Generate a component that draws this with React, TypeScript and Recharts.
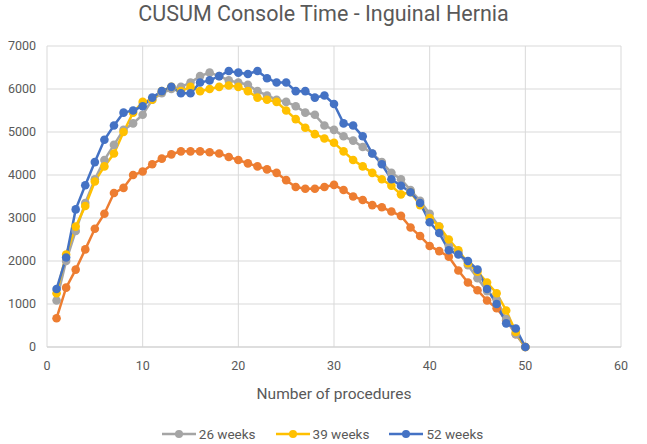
import { LineChart, Line, XAxis, YAxis, CartesianGrid, Legend } from 'recharts'

const PROCEDURES = Array.from({ length: 50 }, (_, i) => i + 1)

// one value per procedure 1..50
const WEEKS_13 = [
  670, 1380, 1800, 2270, 2750, 3100, 3580, 3700, 4000, 4080,
  4250, 4380, 4480, 4550, 4550, 4550, 4530, 4500, 4420, 4350,
  4270, 4200, 4130, 4050, 3880, 3720, 3680, 3680, 3720, 3770,
  3650, 3500, 3420, 3300, 3250, 3150, 3050, 2780, 2580, 2350,
  2230, 2100, 1780, 1500, 1320, 1080, 900, 620, 300, 0,
]
const WEEKS_26 = [
  1080, 2000, 2700, 3350, 3900, 4350, 4700, 5050, 5200, 5400,
  5750, 5900, 6000, 6050, 6150, 6300, 6380, 6300, 6200, 6150,
  6100, 5950, 5850, 5750, 5700, 5600, 5450, 5400, 5150, 5050,
  4900, 4800, 4650, 4500, 4300, 4050, 3900, 3650, 3400, 3100,
  2800, 2350, 2200, 1900, 1600, 1300, 1100, 650, 300, 0,
]
const WEEKS_39 = [
  1250, 2150, 2800, 3280, 3850, 4200, 4500, 5000, 5450, 5700,
  5750, 5950, 6050, 5950, 6050, 5950, 6000, 6050, 6080, 6050,
  5950, 5800, 5750, 5700, 5500, 5300, 5100, 4950, 4850, 4750,
  4550, 4350, 4200, 4050, 3900, 3750, 3550, 3600, 3300, 3000,
  2800, 2500, 2250, 1950, 1750, 1500, 1250, 850, 350, 0,
]
const WEEKS_52 = [
  1350, 2080, 3200, 3760, 4300, 4820, 5150, 5450, 5500, 5600,
  5800, 5950, 6050, 5900, 5900, 6150, 6200, 6300, 6420, 6380,
  6350, 6420, 6250, 6150, 6150, 5950, 5950, 5800, 5850, 5650,
  5200, 5150, 4900, 4500, 4250, 3900, 3750, 3600, 3350, 2900,
  2650, 2250, 2150, 2000, 1800, 1350, 1000, 550, 430, 0,
]

const X_TICKS = [0, 10, 20, 30, 40, 50, 60]
const Y_TICKS = [0, 1000, 2000, 3000, 4000, 5000, 6000, 7000]

const SERIES = [
  { key: 'w13', name: '13 weeks', color: '#ED7D31', values: WEEKS_13, inLegend: false },
  { key: 'w26', name: '26 weeks', color: '#A5A5A5', values: WEEKS_26, inLegend: true },
  { key: 'w39', name: '39 weeks', color: '#FFC000', values: WEEKS_39, inLegend: true },
  { key: 'w52', name: '52 weeks', color: '#4472C4', values: WEEKS_52, inLegend: true },
]

const data = PROCEDURES.map((n, i) => {
  const row: Record<string, number> = { n }
  for (const s of SERIES) row[s.key] = s.values[i]
  return row
})

const FONT = 'Roboto, "Open Sans", sans-serif'
const TEXT = '#595959'

// legend is centred on the plot, not on the whole chart
const LegendContent = ({ payload }: any) => (
  <div style={{ height: 20, marginLeft: 24, display: 'flex', justifyContent: 'center', alignItems: 'center', gap: 20 }}>
    {(payload || []).filter((p: any) => p.type !== 'none').map((p: any) => (
      <div key={p.value} style={{ display: 'flex', alignItems: 'center', gap: 3 }}>
        <svg width={34} height={10}>
          <line x1={0} y1={5} x2={34} y2={5} stroke={p.color} strokeWidth={2.5} />
          <circle cx={17} cy={5} r={4} fill={p.color} />
        </svg>
        <span style={{ fontFamily: FONT, fontSize: 13.5, color: TEXT }}>{p.value}</span>
      </div>
    ))}
  </div>
)

export default function App() {
  return (
    <div style={{ position: 'absolute', left: 0, top: 0, width: 647, height: 444, background: '#fff' }}>
      <div style={{
        position: 'absolute', left: 0, top: 1, width: 647, textAlign: 'center',
        fontFamily: FONT, fontSize: 21.5, color: TEXT,
      }}>
        CUSUM Console Time - Inguinal Hernia
      </div>
      <LineChart width={647} height={444} data={data} margin={{ top: 46, right: 26, left: 0, bottom: 0 }}>
        <CartesianGrid stroke="#D9D9D9" strokeWidth={1} />
        <XAxis
          dataKey="n"
          type="number"
          domain={[0, 60]}
          ticks={X_TICKS}
          tickSize={0}
          tickMargin={14}
          height={77}
          axisLine={{ stroke: '#D0D0D0' }}
          tick={{ fill: TEXT, fontSize: 12.5, fontFamily: FONT }}
          label={{ value: 'Number of procedures', position: 'insideBottom', offset: 25, fill: TEXT, fontSize: 15.5, fontFamily: FONT }}
        />
        <YAxis
          domain={[0, 7000]}
          ticks={Y_TICKS}
          width={47}
          tickSize={0}
          tickMargin={11}
          axisLine={false}
          tick={{ fill: TEXT, fontSize: 12.5, fontFamily: FONT }}
        />
        <Legend verticalAlign="bottom" content={<LegendContent />} />
        {SERIES.map((s) => (
          <Line
            key={s.key}
            dataKey={s.key}
            name={s.name}
            type="linear"
            stroke={s.color}
            strokeWidth={2.5}
            dot={{ r: 4.3, fill: s.color, stroke: s.color, strokeWidth: 0 }}
            legendType={s.inLegend ? 'line' : 'none'}
            isAnimationActive={false}
          />
        ))}
      </LineChart>
    </div>
  )
}
